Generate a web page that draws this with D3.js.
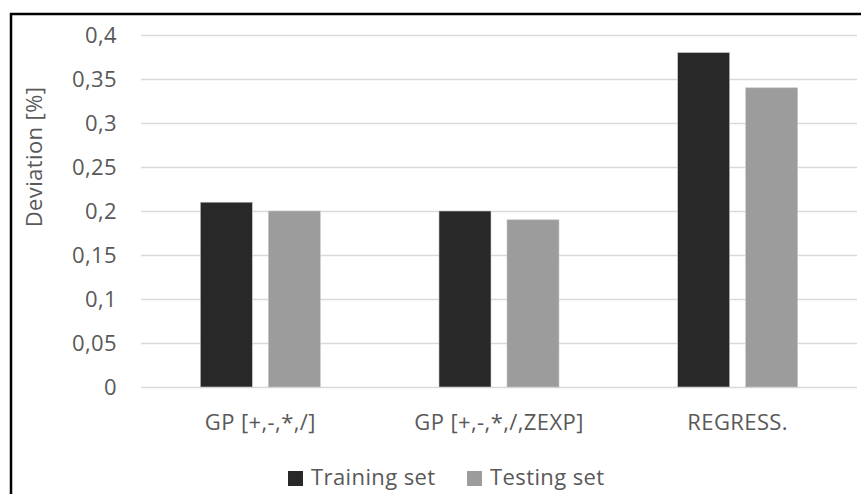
<!DOCTYPE html>
<html>
<head>
<meta charset="utf-8">
<script src="https://cdn.jsdelivr.net/npm/d3@7"></script>
<style>
  html, body { margin: 0; padding: 0; background: #fff; }
  svg { display: block; }
  svg text { font-family: "Open Sans", "Noto Sans", sans-serif; letter-spacing: 0.4px; }
</style>
</head>
<body>
<svg id="chart" width="861" height="494"></svg>
<script>
// Chart data
const categories = ["GP [+,-,*,/]", "GP [+,-,*,/,ZEXP]", "REGRESS."];
const seriesNames = ["Training set", "Testing set"];
const trainingValues = [0.21, 0.20, 0.38];
const testingValues = [0.20, 0.19, 0.34];
const yTicks = [0, 0.05, 0.1, 0.15, 0.2, 0.25, 0.3, 0.35, 0.4];
const yTickLabels = ["0", "0,05", "0,1", "0,15", "0,2", "0,25", "0,3", "0,35", "0,4"];
const yTitle = "Deviation [%]";
const seriesColors = ["#282828", "#9c9c9c"];

const FONT = '"Open Sans", "Noto Sans", sans-serif';
const FONT_SIZE = "22px";
const TEXT_COLOR = "#595959";

const svg = d3.select("#chart");
const W = 861, H = 494;

// Frame lines (left and top)
svg.append("path")
  .attr("d", `M11,${H} L11,14 L${W},14`)
  .attr("fill", "none")
  .attr("stroke", "#000")
  .attr("stroke-width", 2.5);

const plot = { left: 141, right: 857, top: 35, bottom: 387 };

const y = d3.scaleLinear().domain([0, 0.4]).range([plot.bottom, plot.top]);
const x = d3.scaleBand().domain(categories).range([plot.left, plot.right]).paddingInner(0).paddingOuter(0);
const groupWidth = 120;
const xSub = d3.scaleBand().domain(seriesNames)
  .range([(x.bandwidth() - groupWidth) / 2, (x.bandwidth() + groupWidth) / 2])
  .paddingInner(16 / 68).paddingOuter(0);

// Gridlines and value labels
const yAxis = d3.axisLeft(y)
  .tickValues(yTicks)
  .tickSize(-(plot.right - plot.left))
  .tickPadding(24)
  .tickFormat((d, i) => yTickLabels[i]);

const gy = svg.append("g")
  .attr("transform", `translate(${plot.left},0)`)
  .call(yAxis)
  .attr("font-family", FONT)
  .attr("font-size", FONT_SIZE);
gy.select(".domain").remove();
gy.selectAll(".tick line").attr("stroke", "#d9d9d9").attr("stroke-width", 1.5);
gy.selectAll(".tick text")
  .attr("fill", TEXT_COLOR)
  .attr("dy", "0.35em");

// Bars
const rows = categories.map((c, i) => ({ category: c, values: [trainingValues[i], testingValues[i]] }));
const groups = svg.append("g").selectAll("g")
  .data(rows)
  .join("g")
  .attr("transform", d => `translate(${x(d.category)},0)`);

groups.selectAll("rect")
  .data(d => d.values.map((v, j) => ({ name: seriesNames[j], value: v, color: seriesColors[j] })))
  .join("rect")
  .attr("x", d => xSub(d.name))
  .attr("width", xSub.bandwidth())
  .attr("y", d => y(d.value))
  .attr("height", d => y(0) - y(d.value))
  .attr("fill", d => d.color)
  .attr("stroke", "#c8c8c8")
  .attr("stroke-width", 0.6);

// Category axis
const xAxis = d3.axisBottom(x).tickSize(0).tickPadding(27);
const gx = svg.append("g")
  .attr("transform", `translate(0,${plot.bottom})`)
  .call(xAxis)
  .attr("font-family", FONT)
  .attr("font-size", FONT_SIZE);
gx.select(".domain").remove();
gx.selectAll(".tick text")
  .attr("fill", TEXT_COLOR);

// Y-axis title
svg.append("text")
  .attr("transform", "translate(42,157) rotate(-90)")
  .attr("text-anchor", "middle")
  .attr("font-family", FONT)
  .attr("font-size", FONT_SIZE)
  .attr("fill", TEXT_COLOR)
  .text(yTitle);

// Legend
const legendItems = [
  { name: seriesNames[0], color: seriesColors[0], x: 288 },
  { name: seriesNames[1], color: seriesColors[1], x: 467 }
];
const legend = svg.append("g");
legendItems.forEach(item => {
  legend.append("rect")
    .attr("x", item.x)
    .attr("y", 471)
    .attr("width", 15)
    .attr("height", 15)
    .attr("fill", item.color);
  legend.append("text")
    .attr("x", item.x + 23)
    .attr("y", 485)
    .attr("font-family", FONT)
    .attr("font-size", FONT_SIZE)
    .attr("fill", TEXT_COLOR)
    .text(item.name);
});
</script>
</body>
</html>
